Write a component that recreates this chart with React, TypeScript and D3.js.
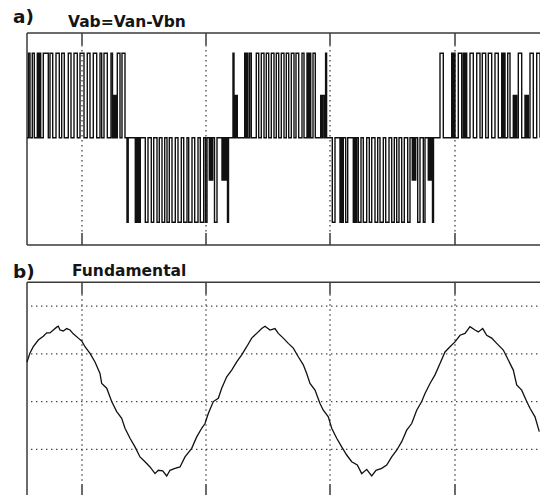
import { useMemo } from "react";
import * as d3 from "d3";

const W = 540;
const H = 495;

// oscilloscope time base (ms) and vertical gridlines
const timeDomain = [0, 51.3];
const gridTimes = [5.5, 17.9, 30.3, 42.8];

// panel a: line-to-line PWM voltage, per-unit of Vdc
// pulses: [start ms, end ms, level]
const burst1 = [
  [0.15, 0.3, 1], [0.53, 0.73, 1], [1.03, 1.15, 1], [1.25, 1.37, 1], [1.63, 2.13, 1],
  [2.3, 2.57, 1], [2.9, 3.23, 1], [3.47, 3.73, 1], [4.13, 4.4, 1], [4.7, 5.03, 1],
  [5.3, 5.7, 1], [6.03, 6.3, 1], [6.63, 6.97, 1], [7.3, 7.47, 1], [7.7, 8.03, 1],
  [8.4, 8.55, 1], [8.63, 8.74, 0.5], [8.8, 8.9, 0.5], [9.03, 9.3, 1], [9.5, 9.8, 1],
];
const burst2 = [
  [10.0, 10.12, 1], [10.83, 10.93, 1], [11.0, 11.12, 1], [11.2, 11.33, 1], [11.83, 12.1, 1],
  [12.43, 12.67, 1], [13.0, 13.23, 1], [13.5, 13.77, 1], [14.0, 14.23, 1], [14.5, 14.83, 1],
  [15.1, 15.43, 1], [15.67, 16.0, 1], [16.17, 16.5, 1], [16.77, 17.1, 1], [17.33, 17.67, 1],
  [17.85, 18.0, 1], [18.23, 18.35, 0.5], [18.45, 18.57, 0.5], [18.75, 19.0, 1],
  [19.5, 19.6, 0.5], [19.67, 19.78, 0.5], [19.85, 19.95, 0.5], [20.05, 20.15, 1],
];
const burst3 = [
  [20.6, 20.7, 1], [20.75, 20.85, 0.5], [20.92, 21.03, 0.5], [21.77, 21.88, 1], [21.98, 22.1, 1],
  [22.27, 22.43, 1], [22.93, 23.17, 1], [23.43, 23.7, 1], [23.93, 24.17, 1], [24.43, 24.7, 1],
  [24.93, 25.17, 1], [25.43, 25.7, 1], [25.93, 26.17, 1], [26.43, 26.7, 1], [26.9, 27.17, 1],
  [27.5, 27.7, 1], [28.0, 28.12, 1], [28.24, 28.37, 1], [28.6, 28.83, 1],
  [29.37, 29.5, 0.5], [29.62, 29.77, 0.5], [29.86, 29.96, 1],
];
const burst4 = [
  [30.53, 30.8, 1], [31.3, 31.42, 1], [31.52, 31.63, 1], [31.87, 32.07, 1], [32.63, 32.75, 1],
  [32.85, 32.97, 1], [33.13, 33.4, 1], [33.63, 33.97, 1], [34.23, 34.47, 1], [34.8, 35.07, 1],
  [35.3, 35.63, 1], [35.87, 36.2, 1], [36.47, 36.73, 1], [36.97, 37.2, 1], [37.47, 37.73, 1],
  [38.07, 38.3, 1], [38.53, 38.66, 0.5], [38.75, 38.87, 0.5], [39.07, 39.3, 1], [39.63, 39.8, 1],
  [40.13, 40.26, 0.5], [40.35, 40.47, 0.5], [40.55, 40.65, 1],
];
const burst5 = [
  [41.3, 41.63, 1], [42.47, 42.59, 1], [42.69, 42.8, 1], [43.13, 43.47, 1], [43.63, 43.75, 1],
  [43.85, 43.97, 1], [44.3, 44.63, 1], [44.97, 45.3, 1], [45.53, 45.87, 1], [46.13, 46.47, 1],
  [46.8, 47.13, 1], [47.47, 47.58, 1], [47.69, 47.8, 1], [48.07, 48.3, 1], [48.63, 48.76, 0.5],
  [48.85, 48.97, 0.5], [49.13, 49.47, 1], [49.8, 49.93, 0.5], [50.02, 50.13, 0.5],
  [50.3, 50.63, 1], [50.97, 51.3, 1],
];
const burstSigns = [1, -1, 1, -1, 1];

// panel b: filtered fundamental, [ms, V]
const fundGridVolts = [200, 100, 0, -100];
const fundamental = [
  [0, 83], [0.3, 102], [0.63, 115], [1.13, 129], [1.63, 137], [1.97, 144], [2.3, 144],
  [2.63, 150], [2.97, 156], [3.13, 158], [3.3, 150], [3.63, 148], [3.97, 153], [4.3, 150],
  [4.63, 142], [5.13, 133], [5.47, 127], [5.8, 115], [6.3, 101], [6.8, 83], [7.3, 59],
  [7.47, 38], [7.97, 28], [8.47, 0], [8.97, -21], [9.47, -35], [9.8, -56], [10.3, -77],
  [10.8, -95], [11.3, -116], [11.8, -126], [12.3, -137], [12.8, -151], [13.13, -144],
  [13.57, -145], [13.97, -156], [14.3, -144], [14.8, -140], [15.3, -137], [15.8, -116],
  [16.47, -98], [16.97, -74], [17.47, -56], [17.8, -46], [18.13, -25], [18.63, 0],
  [19.13, 7], [19.47, 28], [19.97, 52], [20.47, 66], [20.97, 83], [21.47, 98], [21.97, 115],
  [22.47, 133], [22.97, 143], [23.47, 153], [23.8, 158], [24.3, 150], [24.8, 153],
  [25.13, 143], [25.63, 133], [26.13, 122], [26.63, 112], [27.13, 94], [27.63, 77],
  [27.97, 59], [28.3, 38], [28.8, 24], [29.3, -4], [29.63, -18], [30.13, -32], [30.47, -56],
  [30.97, -77], [31.47, -95], [31.97, -112], [32.47, -126], [33.03, -133], [33.47, -151],
  [33.97, -142], [34.47, -156], [34.9, -144], [35.47, -140], [35.97, -133], [36.47, -116],
  [36.97, -102], [37.47, -84], [37.97, -60], [38.47, -46], [38.97, -18], [39.47, 0],
  [39.8, 17], [40.3, 38], [40.8, 56], [41.3, 80], [41.8, 104], [42.3, 115], [42.8, 125],
  [43.3, 139], [43.8, 143], [44.3, 157], [44.8, 150], [45.13, 146], [45.57, 153],
  [45.97, 139], [46.47, 133], [46.97, 122], [47.63, 108], [48.13, 87], [48.63, 66],
  [48.97, 35], [49.47, 24], [49.97, 0], [50.3, -14], [50.8, -32], [51.23, -63],
];

const INK = "#111";
const FRAME = "#3a3a3a";
const DOT = "#444";
const FONT = "'DejaVu Sans', Verdana, sans-serif";

export default function App() {
  const x = d3.scaleLinear().domain(timeDomain).range([27, W]);
  const ya = d3.scaleLinear().domain([-1.27, 1.24]).range([245, 33]);
  const yb = d3.scaleLinear().domain([-200, 250]).range([497, 282.3]);

  const pwmPath = useMemo(() => {
    const pts: [number, number][] = [[timeDomain[0], 0]];
    [burst1, burst2, burst3, burst4, burst5].forEach((b, i) => {
      b.forEach(([s, e, lv]) => {
        pts.push([s, burstSigns[i] * lv], [e, 0]);
      });
    });
    pts.push([timeDomain[1], 0]);
    return d3
      .line<[number, number]>()
      .x((d) => x(d[0]))
      .y((d) => ya(d[1]))
      .curve(d3.curveStepAfter)(pts);
  }, []);

  const fundPath = d3
    .line<number[]>()
    .x((d) => x(d[0]))
    .y((d) => yb(d[1]))(fundamental);

  const tick = 12;
  const panels = [
    { y: ya, top: ya.range()[1], bottom: ya.range()[0], hGrid: [] as number[] },
    { y: yb, top: yb.range()[1], bottom: yb.range()[0] - 1, hGrid: fundGridVolts },
  ];

  return (
    <svg
      width={W}
      height={H}
      style={{ position: "absolute", left: 0, top: 0, background: "#fff" }}
    >
      {panels.map((p, i) => (
        <g key={i}>
          {gridTimes.map((t) => (
            <line
              key={"v" + t}
              x1={x(t)}
              x2={x(t)}
              y1={p.top + tick}
              y2={p.bottom - tick}
              stroke={DOT}
              strokeWidth={1.3}
              strokeDasharray="1.4,3.6"
            />
          ))}
          {p.hGrid.map((v) => (
            <line
              key={"h" + v}
              x1={x(timeDomain[0]) + 4}
              x2={W}
              y1={p.y(v)}
              y2={p.y(v)}
              stroke={DOT}
              strokeWidth={1.3}
              strokeDasharray="1.4,3.6"
            />
          ))}
          {gridTimes.map((t) => (
            <g key={"t" + t}>
              <line x1={x(t)} x2={x(t)} y1={p.top} y2={p.top + tick} stroke={FRAME} strokeWidth={1.5} />
              <line x1={x(t)} x2={x(t)} y1={p.bottom - tick} y2={p.bottom} stroke={FRAME} strokeWidth={1.5} />
            </g>
          ))}
          <line x1={x(timeDomain[0])} x2={W} y1={p.top} y2={p.top} stroke={FRAME} strokeWidth={1.5} />
          <line x1={x(timeDomain[0])} x2={W} y1={p.bottom} y2={p.bottom} stroke={FRAME} strokeWidth={1.5} />
          <line
            x1={x(timeDomain[0])}
            x2={x(timeDomain[0])}
            y1={p.top}
            y2={p.bottom}
            stroke={FRAME}
            strokeWidth={1.5}
          />
        </g>
      ))}

      <path d={pwmPath ?? ""} fill="none" stroke={INK} strokeWidth={1.4} />
      <path d={fundPath ?? ""} fill="none" stroke={INK} strokeWidth={1.3} />

      <g fontFamily={FONT} fontWeight="bold" fill="#151515">
        <text x={13} y={23} fontSize={18.5}>a)</text>
        <text x={68} y={27} fontSize={15.5}>Vab=Van-Vbn</text>
        <text x={13} y={278} fontSize={18.5}>b)</text>
        <text x={72} y={276} fontSize={15.5}>Fundamental</text>
      </g>
    </svg>
  );
}
